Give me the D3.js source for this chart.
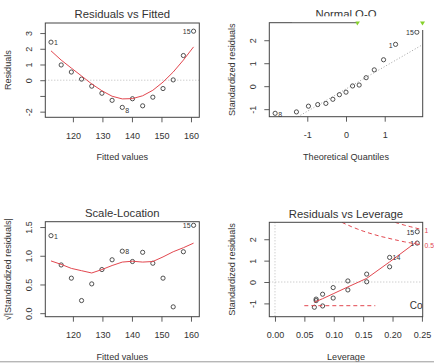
<!DOCTYPE html>
<html><head><meta charset="utf-8">
<script src="https://cdn.jsdelivr.net/npm/d3@7/dist/d3.min.js"></script>
<style>
html,body{margin:0;padding:0;background:#fff;}
svg{display:block;font-family:"Liberation Sans",Arial,sans-serif;}
</style></head><body>
<svg id="chart" width="434" height="363"></svg>
<script>
// ---------------- data ----------------
const obsIds       = [1,2,3,4,5,6,7,8,9,10,11,12,13,14,15];
const fittedValues = [112.58,116.03,119.48,122.93,126.38,129.83,133.28,136.73,140.18,143.63,147.08,150.53,153.98,157.43,160.88];
const residuals    = [2.42,0.97,0.52,0.07,-0.38,-0.83,-1.28,-1.73,-1.18,-1.63,-1.08,-0.53,0.02,1.57,3.12];
const stdResiduals = [1.82,0.71,0.37,0.05,-0.26,-0.57,-0.87,-1.18,-0.80,-1.12,-0.75,-0.37,0.01,1.15,2.35];
const sqrtAbsStdRes= [1.35,0.84,0.61,0.22,0.51,0.76,0.93,1.08,0.90,1.06,0.87,0.61,0.11,1.07,1.53];
const leverage     = [0.242,0.195,0.156,0.124,0.099,0.081,0.070,0.067,0.070,0.081,0.099,0.124,0.156,0.195,0.242];

// red smoothers
const smoothFitted = [1.87,1.28,0.77,0.27,-0.24,-0.67,-1.02,-1.19,-1.17,-0.99,-0.64,-0.12,0.52,1.28,2.12];
const smoothScale  = [0.91,0.85,0.78,0.74,0.70,0.76,0.83,0.89,0.905,0.89,0.90,0.98,1.07,1.14,1.22];
const smoothLevX   = [0.067,0.070,0.081,0.099,0.124,0.156,0.195,0.242];
const smoothLevY   = [-0.95,-0.91,-0.78,-0.55,-0.23,0.17,0.94,1.90];

// Normal Q-Q
const theoQuantiles = [-1.83,-1.28,-0.97,-0.73,-0.52,-0.34,-0.17,0,0.17,0.34,0.52,0.73,0.97,1.28,1.83];
const qqSortedRes   = [-1.18,-1.12,-0.87,-0.80,-0.75,-0.57,-0.37,-0.26,0.01,0.05,0.37,0.71,1.15,1.82,2.35];
const qqSortedIds   = [8,10,7,9,11,6,12,5,13,4,3,2,14,1,15];
const qqLineIntercept = -0.12;
const qqLineSlope     = 0.974;

// Cook's distance contours
const cookLevels = ["0.5","1"];
const cook05Lev = [0.114,0.12,0.13,0.14,0.15,0.16,0.17,0.18,0.19,0.20,0.21,0.22,0.23,0.24,0.2513];
const cook05Res = [2.79,2.71,2.59,2.48,2.38,2.29,2.21,2.13,2.07,2.00,1.94,1.88,1.83,1.78,1.73];
const cook1Lev  = [0.2045,0.21,0.22,0.23,0.24,0.2513];
const cook1Res  = [2.79,2.74,2.66,2.59,2.52,2.44];

// labelled observations
const idsFitted   = [1,8,15];
const idsLeverage = [15,1,14];

// titles / axis text
const titles = ["Residuals vs Fitted","Normal Q-Q","Scale-Location","Residuals vs Leverage"];
const xTitles = ["Fitted values","Theoretical Quantiles","Fitted values","Leverage"];
const yTitles = ["Residuals","Standardized residuals","\u221A|Standardized residuals|","Standardized residuals"];
const legendText = "Cook's distance";

// ticks
const fittedTicks = [120,130,140,150,160];
const p1YTicks = [-2,-1,0,1,2,3];
const p1YTickLabels = ["-2","","0","1","2","3"];
const qqXTicks = [-1,0,1];
const stdYTicks = [-1,0,1,2];
const scaleYTicks = [0,0.5,1,1.5];
const levXTicks = [0,0.05,0.10,0.15,0.20,0.25];

// ---------------- drawing ----------------
const svg = d3.select("#chart");
const RED = "#e2474f";
const INK = "#333";
const FONT_TICK = 9, FONT_AX = 9.1, FONT_TITLE = 11.3, FONT_ID = 7;

function makePanel(cfg, idx) {
  const b = cfg.box;
  const x = d3.scaleLinear().domain(cfg.xDomain).range([b.x0, b.x1]);
  const y = d3.scaleLinear().domain(cfg.yDomain).range([b.y1, b.y0]);
  const g = svg.append("g");
  const clipId = "clip" + idx;
  svg.append("clipPath").attr("id", clipId).append("rect")
    .attr("x", b.x0).attr("y", b.y0).attr("width", b.x1 - b.x0).attr("height", b.y1 - b.y0);
  const inner = g.append("g").attr("clip-path", `url(#${clipId})`);

  // x axis
  const xa = g.append("g").attr("transform", `translate(0,${b.y1})`)
    .call(d3.axisBottom(x).tickValues(cfg.xTicks).tickFormat((d,i)=>cfg.xTickLabels[i]).tickSize(5));
  xa.select(".domain").remove();
  xa.selectAll("line").attr("stroke", INK).attr("stroke-width", 0.8);
  xa.selectAll("text").attr("y", 21.5).attr("dy", null).attr("fill", INK)
    .attr("font-size", FONT_TICK).attr("font-family", "Liberation Sans, Arial, sans-serif");

  // y axis (labels rotated, R style)
  const ya = g.append("g").attr("transform", `translate(${b.x0},0)`)
    .call(d3.axisLeft(y).tickValues(cfg.yTicks).tickFormat((d,i)=>cfg.yTickLabels[i]).tickSize(5));
  ya.select(".domain").remove();
  ya.selectAll("line").attr("stroke", INK).attr("stroke-width", 0.8);
  ya.selectAll("text").attr("transform", "rotate(-90)").attr("x", 0).attr("y", -13).attr("dy", null)
    .attr("text-anchor", "middle").attr("fill", INK)
    .attr("font-size", FONT_TICK).attr("font-family", "Liberation Sans, Arial, sans-serif");

  // titles
  g.append("text").attr("x", (b.x0 + b.x1) / 2).attr("y", b.y0 - 4.8).attr("text-anchor", "middle")
    .attr("font-size", FONT_TITLE).attr("fill", INK).text(titles[idx]);
  g.append("text").attr("x", (b.x0 + b.x1) / 2).attr("y", b.y1 + 43).attr("text-anchor", "middle")
    .attr("font-size", FONT_AX).attr("fill", INK).text(xTitles[idx]);
  g.append("text").attr("transform", `translate(${b.x0 - 34},${(b.y0 + b.y1) / 2}) rotate(-90)`)
    .attr("text-anchor", "middle").attr("font-size", FONT_AX).attr("fill", INK).text(yTitles[idx]);

  return {x, y, g, inner, b};
}

function drawPoints(p, xs, ys) {
  p.inner.selectAll(null).data(xs).enter().append("circle")
    .attr("cx", (d) => p.x(d)).attr("cy", (d, i) => p.y(ys[i])).attr("r", 2.1)
    .attr("fill", "none").attr("stroke", INK).attr("stroke-width", 0.85);
}
function drawBox(p) {
  p.g.append("rect").attr("x", p.b.x0).attr("y", p.b.y0)
    .attr("width", p.b.x1 - p.b.x0).attr("height", p.b.y1 - p.b.y0)
    .attr("fill", "none").attr("stroke", "#444").attr("stroke-width", 1);
}
function idLabel(p, xv, yv, text, side, dy) {
  p.g.append("text").attr("x", p.x(xv) + (side === "right" ? 3 : -3)).attr("y", p.y(yv) + (dy || 0))
    .attr("dominant-baseline", "central").attr("text-anchor", side === "right" ? "start" : "end")
    .attr("font-size", FONT_ID).attr("fill", INK).text(text);
}
const lineGen = (p) => d3.line().x(d => p.x(d[0])).y(d => p.y(d[1]));

// ---- panel 1: Residuals vs Fitted ----
{
  const p = makePanel({box:{x0:45.3,x1:199.3,y0:23,y1:117.3}, xDomain:[110.65,162.82], yDomain:[-2.36,3.64],
    xTicks:fittedTicks, xTickLabels:fittedTicks.map(String), yTicks:p1YTicks, yTickLabels:p1YTickLabels}, 0);
  p.inner.append("line").attr("x1", p.b.x0).attr("x2", p.b.x1).attr("y1", p.y(0)).attr("y2", p.y(0))
    .attr("stroke", "#aaa").attr("stroke-width", 0.8).attr("stroke-dasharray", "1,2");
  drawPoints(p, fittedValues, residuals);
  p.inner.append("path").datum(fittedValues.map((f,i)=>[f, smoothFitted[i]])).attr("d", lineGen(p))
    .attr("fill", "none").attr("stroke", RED).attr("stroke-width", 1);
  idsFitted.forEach(id => {
    const i = obsIds.indexOf(id);
    const right = fittedValues[i] <= 140;
    idLabel(p, fittedValues[i], residuals[i], String(id), right ? "right" : "left", id === 8 ? 3 : 0.5);
  });
  drawBox(p);
}

// ---- panel 2: Normal Q-Q ----
{
  const p = makePanel({box:{x0:269.3,x1:422.7,y0:22.7,y1:116.7}, xDomain:[-1.981,1.981], yDomain:[-1.328,2.763],
    xTicks:qqXTicks, xTickLabels:qqXTicks.map(String), yTicks:stdYTicks, yTickLabels:stdYTicks.map(String)}, 1);
  const xd = p.x.domain();
  p.inner.append("line").attr("x1", p.x(xd[0])).attr("x2", p.x(xd[1]))
    .attr("y1", p.y(qqLineIntercept + qqLineSlope * xd[0])).attr("y2", p.y(qqLineIntercept + qqLineSlope * xd[1]))
    .attr("stroke", "#8c8c8c").attr("stroke-width", 0.8).attr("stroke-dasharray", "1,2");
  drawPoints(p, theoQuantiles, qqSortedRes);
  [8,1,15].forEach(id => {
    const i = qqSortedIds.indexOf(id);
    idLabel(p, theoQuantiles[i], qqSortedRes[i], String(id), theoQuantiles[i] < 0 ? "right" : "left", 0.8);
  });
  drawBox(p);
  // white band artefact with green markers (as in the reference image)
  svg.append("rect").attr("x", 292).attr("y", 16.3).attr("width", 142).attr("height", 5.8).attr("fill", "#fff");
  svg.append("rect").attr("x", 357).attr("y", 21.5).attr("width", 68).attr("height", 8.5).attr("fill", "#fff");
  svg.append("path").attr("d", "M355.5,21.5 L360,21.5 L357.2,25.5 Z").attr("fill", "#86d12b");
  svg.append("path").attr("d", "M420,21.5 L425,21.5 L422.5,25.5 Z").attr("fill", "#86d12b");
}

// ---- panel 3: Scale-Location ----
{
  const p = makePanel({box:{x0:45.3,x1:199.3,y0:221.7,y1:316.7}, xDomain:[110.65,162.82], yDomain:[-0.0613,1.5933],
    xTicks:fittedTicks, xTickLabels:fittedTicks.map(String), yTicks:scaleYTicks, yTickLabels:scaleYTicks.map(d3.format(".1f"))}, 2);
  drawPoints(p, fittedValues, sqrtAbsStdRes);
  p.inner.append("path").datum(fittedValues.map((f,i)=>[f, smoothScale[i]])).attr("d", lineGen(p))
    .attr("fill", "none").attr("stroke", RED).attr("stroke-width", 1);
  idsFitted.forEach(id => {
    const i = obsIds.indexOf(id);
    const right = fittedValues[i] <= 140;
    idLabel(p, fittedValues[i], sqrtAbsStdRes[i], String(id), right ? "right" : "left", 0.5);
  });
  drawBox(p);
}

// ---- panel 4: Residuals vs Leverage ----
{
  const p = makePanel({box:{x0:269.3,x1:422.7,y0:222.3,y1:316.7}, xDomain:[-0.00967,0.2513], yDomain:[-1.6219,2.7923],
    xTicks:levXTicks, xTickLabels:levXTicks.map(d3.format(".2f")), yTicks:stdYTicks, yTickLabels:stdYTicks.map(String)}, 3);
  p.inner.append("line").attr("x1", p.b.x0).attr("x2", p.b.x1).attr("y1", p.y(0)).attr("y2", p.y(0))
    .attr("stroke", "#aaa").attr("stroke-width", 0.8).attr("stroke-dasharray", "1,2");
  p.inner.append("line").attr("x1", p.x(0)).attr("x2", p.x(0)).attr("y1", p.b.y0).attr("y2", p.b.y1)
    .attr("stroke", "#aaa").attr("stroke-width", 0.8).attr("stroke-dasharray", "1,2");
  drawPoints(p, leverage, stdResiduals);
  p.inner.append("path").datum(smoothLevX.map((h,i)=>[h, smoothLevY[i]])).attr("d", lineGen(p))
    .attr("fill", "none").attr("stroke", RED).attr("stroke-width", 1);
  [[cook05Lev, cook05Res], [cook1Lev, cook1Res]].forEach(([hs, rs], k) => {
    p.inner.append("path").datum(hs.map((h,i)=>[h, rs[i]])).attr("d", lineGen(p))
      .attr("fill", "none").attr("stroke", RED).attr("stroke-width", 1).attr("stroke-dasharray", "4,3");
    p.g.append("text").attr("x", p.b.x1 + 1.8).attr("y", p.y(rs[rs.length - 1]) + 0.5)
      .attr("dominant-baseline", "central").attr("font-size", 6.8).attr("fill", RED).text(cookLevels[k]);
  });
  // legend (bottom-left, clipped by the plot region as in the reference)
  p.inner.append("line").attr("x1", p.b.x0 + 35).attr("x2", p.b.x0 + 106)
    .attr("y1", p.b.y1 - 11).attr("y2", p.b.y1 - 11)
    .attr("stroke", RED).attr("stroke-width", 1).attr("stroke-dasharray", "4,3");
  p.inner.append("text").attr("x", p.b.x0 + 140.5).attr("y", p.b.y1 - 11)
    .attr("dominant-baseline", "central").attr("font-size", 10).attr("fill", INK).text(legendText);
  idsLeverage.forEach(id => {
    const i = obsIds.indexOf(id);
    idLabel(p, leverage[i], stdResiduals[i], String(id), id === 14 ? "right" : "left", 0.5);
  });
  drawBox(p);
}

// thin grey rule at the bottom edge of the picture
svg.append("line").attr("x1", 0).attr("x2", 434).attr("y1", 361.8).attr("y2", 361.8)
  .attr("stroke", "#999").attr("stroke-width", 1);
</script>
</body></html>
